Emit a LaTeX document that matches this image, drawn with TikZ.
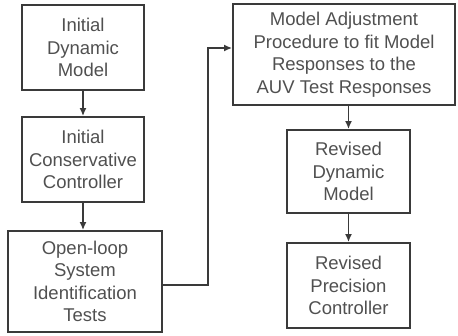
\documentclass[tikz,border=0pt]{standalone}
\usepackage{fontspec}
\setmainfont{Liberation Sans}
\usetikzlibrary{arrows.meta}
\definecolor{boxline}{HTML}{3A3A3A}
\definecolor{txt}{HTML}{505050}
\begin{document}
\begin{tikzpicture}[x=1pt,y=-1pt,
  blk/.style={draw=boxline, line width=1.8pt, rectangle, align=center, text=txt,
    font=\fontsize{18.5}{22.5}\selectfont, inner sep=0pt},
  arr/.style={draw=boxline, line width=1.6pt, -{Latex[length=8pt,width=7pt]}}]
\useasboundingbox (0,0) rectangle (458,335);
\node[blk, minimum width=122pt, minimum height=85pt] (b1) at (83,47.5) {Initial\\Dynamic\\Model};
\node[blk, minimum width=122pt, minimum height=85pt] (b2) at (83,159.5) {Initial\\Conservative\\Controller};
\node[blk, minimum width=154pt, minimum height=101pt] (b3) at (85,281.5) {Open-loop\\System\\Identification\\Tests};
\node[blk, minimum width=222pt, minimum height=101pt] (b4) at (344,54.5) {Model Adjustment\\Procedure to fit Model\\Responses to the\\AUV Test Responses};
\node[blk, minimum width=123pt, minimum height=83pt] (b5) at (348.5,171.5) {Revised\\Dynamic\\Model};
\node[blk, minimum width=123pt, minimum height=85pt] (b6) at (348.5,285.5) {Revised\\Precision\\Controller};
\draw[arr] (b1.south) -- (b2.north);
\draw[arr] (b2.south) -- (b2.south |- b3.north);
\draw[arr] (b4.south -| b5.north) -- (b5.north);
\draw[arr] (b5.south) -- (b6.north);
\coordinate (c1) at (208,285);
\coordinate (c2) at (208,48);
\draw[arr, rounded corners=0pt] (b3.east |- c1) -- (c1) -- (c2) -- (b4.west |- c2);
\end{tikzpicture}
\end{document}
